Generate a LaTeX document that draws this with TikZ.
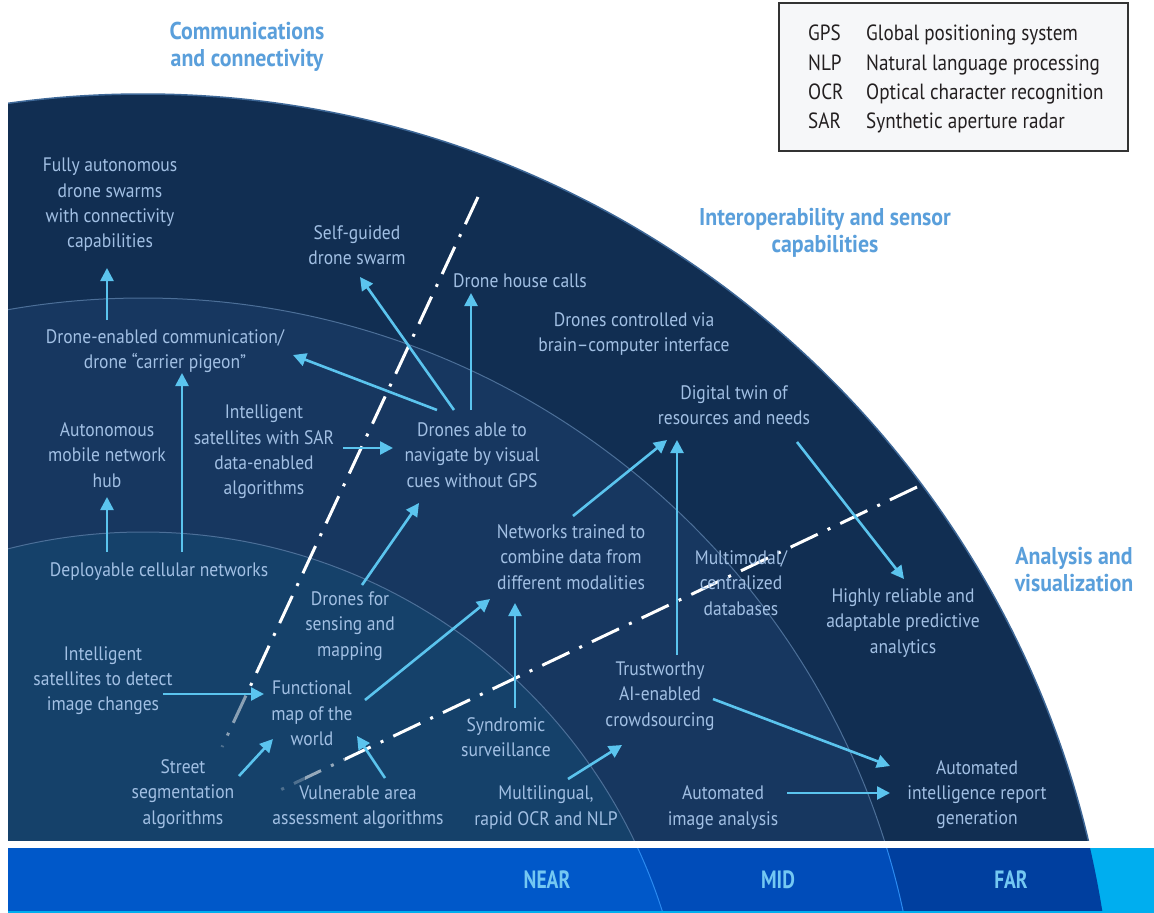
\documentclass[tikz,border=0pt]{standalone}
\usepackage{fontspec}
\setmainfont{PT Sans}[FakeStretch=0.9]
\newfontfamily\barfont{PT Sans}[FakeStretch=0.78]
\newfontfamily\lgfont{PT Sans}[FakeStretch=0.87]
\usetikzlibrary{arrows.meta}
\definecolor{farc}{HTML}{112E52}
\definecolor{midc}{HTML}{173760}
\definecolor{nearc}{HTML}{15416A}
\definecolor{arcl}{HTML}{4C6F98}
\definecolor{edgec}{HTML}{3D6797}
\definecolor{txt}{HTML}{A2C0E4}
\definecolor{arrc}{HTML}{5BC4EE}
\definecolor{ttlc}{HTML}{5A9FDB}
\definecolor{barn}{HTML}{0058C9}
\definecolor{barm}{HTML}{004CB9}
\definecolor{barf}{HTML}{003F9F}
\definecolor{cyanc}{HTML}{00AEEF}
\definecolor{barl}{HTML}{74C8F2}
\definecolor{bardiv}{HTML}{2B8AF0}
\definecolor{lgfill}{HTML}{F6F7F9}
\definecolor{lgtxt}{HTML}{231F20}
\tikzset{
  lbl/.style={text=txt, align=center, inner sep=0pt, font=\fontsize{19.5}{25.3}\selectfont},
  ttl/.style={text=ttlc, align=center, inner sep=0pt, font=\bfseries\fontsize{24.3}{27}\selectfont},
  lg/.style={text=lgtxt, anchor=base west, inner sep=0pt, font=\lgfont\fontsize{22}{29}\selectfont},
  barlbl/.style={text=barl, inner sep=0pt, font=\barfont\bfseries\fontsize{25}{28}\selectfont},
  arr/.style={draw=arrc, line width=2.6pt, -{Triangle[length=13pt,width=13pt]}},
  dd/.style={draw=white, line width=3pt, dash pattern=on 30pt off 11pt on 3pt off 11pt}
}
\begin{document}
\begin{tikzpicture}[x=1pt,y=-1pt]
\useasboundingbox (0,0) rectangle (1154,913);
\fill[white] (0,0) rectangle (1154,913);
% main quarter disc
\begin{scope}
  \clip (8,0) rectangle (1154,840);
  \fill[farc] (143,1065.5) circle[radius=971.5pt];
  \fill[midc] (143,1075.5) circle[radius=777.5pt];
  \fill[nearc] (143,1077) circle[radius=545pt];
  \draw[arcl, line width=1pt] (143,1075.5) circle[radius=777.5pt];
  \draw[arcl, line width=1pt] (143,1077) circle[radius=545pt];
  \draw[edgec, line width=1.5pt] (143,1065.5) circle[radius=971.5pt];
\end{scope}
% bottom bar
\fill[cyanc] (8,848) rectangle (1154,913);
\begin{scope}
  \clip (8,848) rectangle (1154,910);
  \fill[barf] (143,1065.5) circle[radius=971.5pt];
  \fill[barm] (143,1075.5) circle[radius=777.5pt];
  \fill[barn] (143,1077) circle[radius=545pt];
  \draw[bardiv, line width=1pt] (143,1075.5) circle[radius=777.5pt];
  \draw[bardiv, line width=1pt] (143,1077) circle[radius=545pt];
\end{scope}
\node[barlbl] (near) at (547,880) {NEAR};
\node[barlbl] (mid) at (778,880) {MID};
\node[barlbl] (far) at (1011,880) {FAR};
% dash-dot lines
\coordinate (l1a) at (478,197);
\coordinate (l1b) at (222,747);
\coordinate (l2a) at (917,487);
\coordinate (l2b) at (276,792);
\begin{scope}
  \clip (0,0) rectangle (1154,692);
  \draw[dd] (l1a) -- (l1b);
\end{scope}
\begin{scope}
  \clip (0,692) rectangle (1154,736);
  \draw[dd, draw opacity=0.5] (l1a) -- (l1b);
\end{scope}
\begin{scope}
  \clip (0,736) rectangle (1154,760);
  \draw[dd, draw opacity=0.25] (l1a) -- (l1b);
\end{scope}
\begin{scope}
  \clip (345,0) rectangle (1154,840);
  \draw[dd] (l2a) -- (l2b);
\end{scope}
\begin{scope}
  \clip (305,0) rectangle (345,840);
  \draw[dd, draw opacity=0.55] (l2a) -- (l2b);
\end{scope}
\begin{scope}
  \clip (260,0) rectangle (305,840);
  \draw[dd, draw opacity=0.25] (l2a) -- (l2b);
\end{scope}
% titles
\node[ttl] (comT) at (247,46.5) {Communications\\and connectivity};
\node[ttl] (intT) at (825,232.5) {Interoperability and sensor\\capabilities};
\node[ttl] (anaT) at (1074,570) {Analysis and\\visualization};
% legend
\draw[draw=black!80, line width=1.5pt, fill=lgfill] (779,3) rectangle (1128,151);
\node[lg] (g1a) at (808,40) {GPS};
\node[lg] (g1b) at (866,40) {Global positioning system};
\node[lg] (g2a) at (808,70) {NLP};
\node[lg] (g2b) at (866,70) {Natural language processing};
\node[lg] (g3a) at (808,99) {OCR};
\node[lg] (g3b) at (866,99) {Optical character recognition};
\node[lg] (g4a) at (808,128) {SAR};
\node[lg] (g4b) at (866,128) {Synthetic aperture radar};
% nodes
\node[lbl] (fully) at (110,205) {Fully autonomous\\drone swarms\\with connectivity\\capabilities};
\node[lbl] (selfg) at (357,245) {Self-guided\\drone swarm};
\node[lbl] (house) at (520,281) {Drone house calls};
\node[lbl] (brain) at (634,334) {Drones controlled via\\brain–computer interface};
\node[lbl] (twin) at (734,405.5) {Digital twin of\\resources and needs};
\node[lbl] (comm) at (165,351) {Drone-enabled communication/\\drone “carrier pigeon”};
\node[lbl] (hub) at (107,455) {Autonomous\\mobile network\\hub};
\node[lbl] (sar) at (264,452) {Intelligent\\satellites with SAR\\data-enabled\\algorithms};
\node[lbl] (nav) at (472,455) {Drones able to\\navigate by visual\\cues without GPS};
\node[lbl] (netw) at (571,557) {Networks trained to\\combine data from\\different modalities};
\node[lbl] (multi) at (741,583) {Multimodal/\\centralized\\databases};
\node[lbl] (reli) at (903,623) {Highly reliable and\\adaptable predictive\\analytics};
\node[lbl] (deploy) at (159,572) {Deployable cellular networks};
\node[lbl] (sens) at (350,626) {Drones for\\sensing and\\mapping};
\node[lbl] (satd) at (103,680.5) {Intelligent\\satellites to detect\\image changes};
\node[lbl] (func) at (312,713.5) {Functional\\map of the\\world};
\node[lbl] (synd) at (506,737) {Syndromic\\surveillance};
\node[lbl] (trust) at (660,696) {Trustworthy\\AI-enabled\\crowdsourcing};
\node[lbl] (street) at (183,794) {Street\\segmentation\\algorithms};
\node[lbl] (vuln) at (358,807) {Vulnerable area\\assessment algorithms};
\node[lbl] (mling) at (546,807.5) {Multilingual,\\rapid OCR and NLP};
\node[lbl] (aimg) at (723,807.5) {Automated\\image analysis};
\node[lbl] (arep) at (977,794.5) {Automated\\intelligence report\\generation};
% arrows
\draw[arr] ([shift={(-58,-31)}]comm.center) -- ([shift={(-3,63)}]fully.center);
\draw[arr] ([shift={(-52,-20)}]deploy.center) -- ([shift={(0,42)}]hub.center);
\draw[arr] ([shift={(23,-20)}]deploy.center) -- ([shift={(17,22)}]comm.center);
\draw[arr] ([shift={(-35,-45)}]nav.center) -- ([shift={(128,4)}]comm.center);
\draw[arr] ([shift={(-18,-45)}]nav.center) -- ([shift={(3,32)}]selfg.center);
\draw[arr] ([shift={(-1,-45)}]nav.center) -- ([shift={(-49,12)}]house.center);
\draw[arr] ([shift={(79,-4)}]sar.center) -- ([shift={(-79,-7)}]nav.center);
\draw[arr] ([shift={(12,-41)}]sens.center) -- ([shift={(-53,48)}]nav.center);
\draw[arr] ([shift={(60,13.5)}]satd.center) -- ([shift={(-48,-19.5)}]func.center);
\draw[arr] ([shift={(56,-18)}]street.center) -- ([shift={(-39,25.5)}]func.center);
\draw[arr] ([shift={(27,-29)}]vuln.center) -- ([shift={(45,22.5)}]func.center);
\draw[arr] ([shift={(53,-13.5)}]func.center) -- ([shift={(-81,42)}]netw.center);
\draw[arr] ([shift={(9,-29)}]synd.center) -- ([shift={(-56,46)}]netw.center);
\draw[arr] ([shift={(2,-41)}]netw.center) -- ([shift={(-67,34.5)}]twin.center);
\draw[arr] ([shift={(17,-41)}]trust.center) -- ([shift={(-57,34.5)}]twin.center);
\draw[arr] ([shift={(63,36.5)}]twin.center) -- ([shift={(1,-44)}]reli.center);
\draw[arr] ([shift={(22,-28.5)}]mling.center) -- ([shift={(-38,49)}]trust.center);
\draw[arr] ([shift={(53,3)}]trust.center) -- ([shift={(-87,-28.5)}]arep.center);
\draw[arr] ([shift={(64,-14.5)}]aimg.center) -- ([shift={(-87,-1.5)}]arep.center);
\end{tikzpicture}
\end{document}
